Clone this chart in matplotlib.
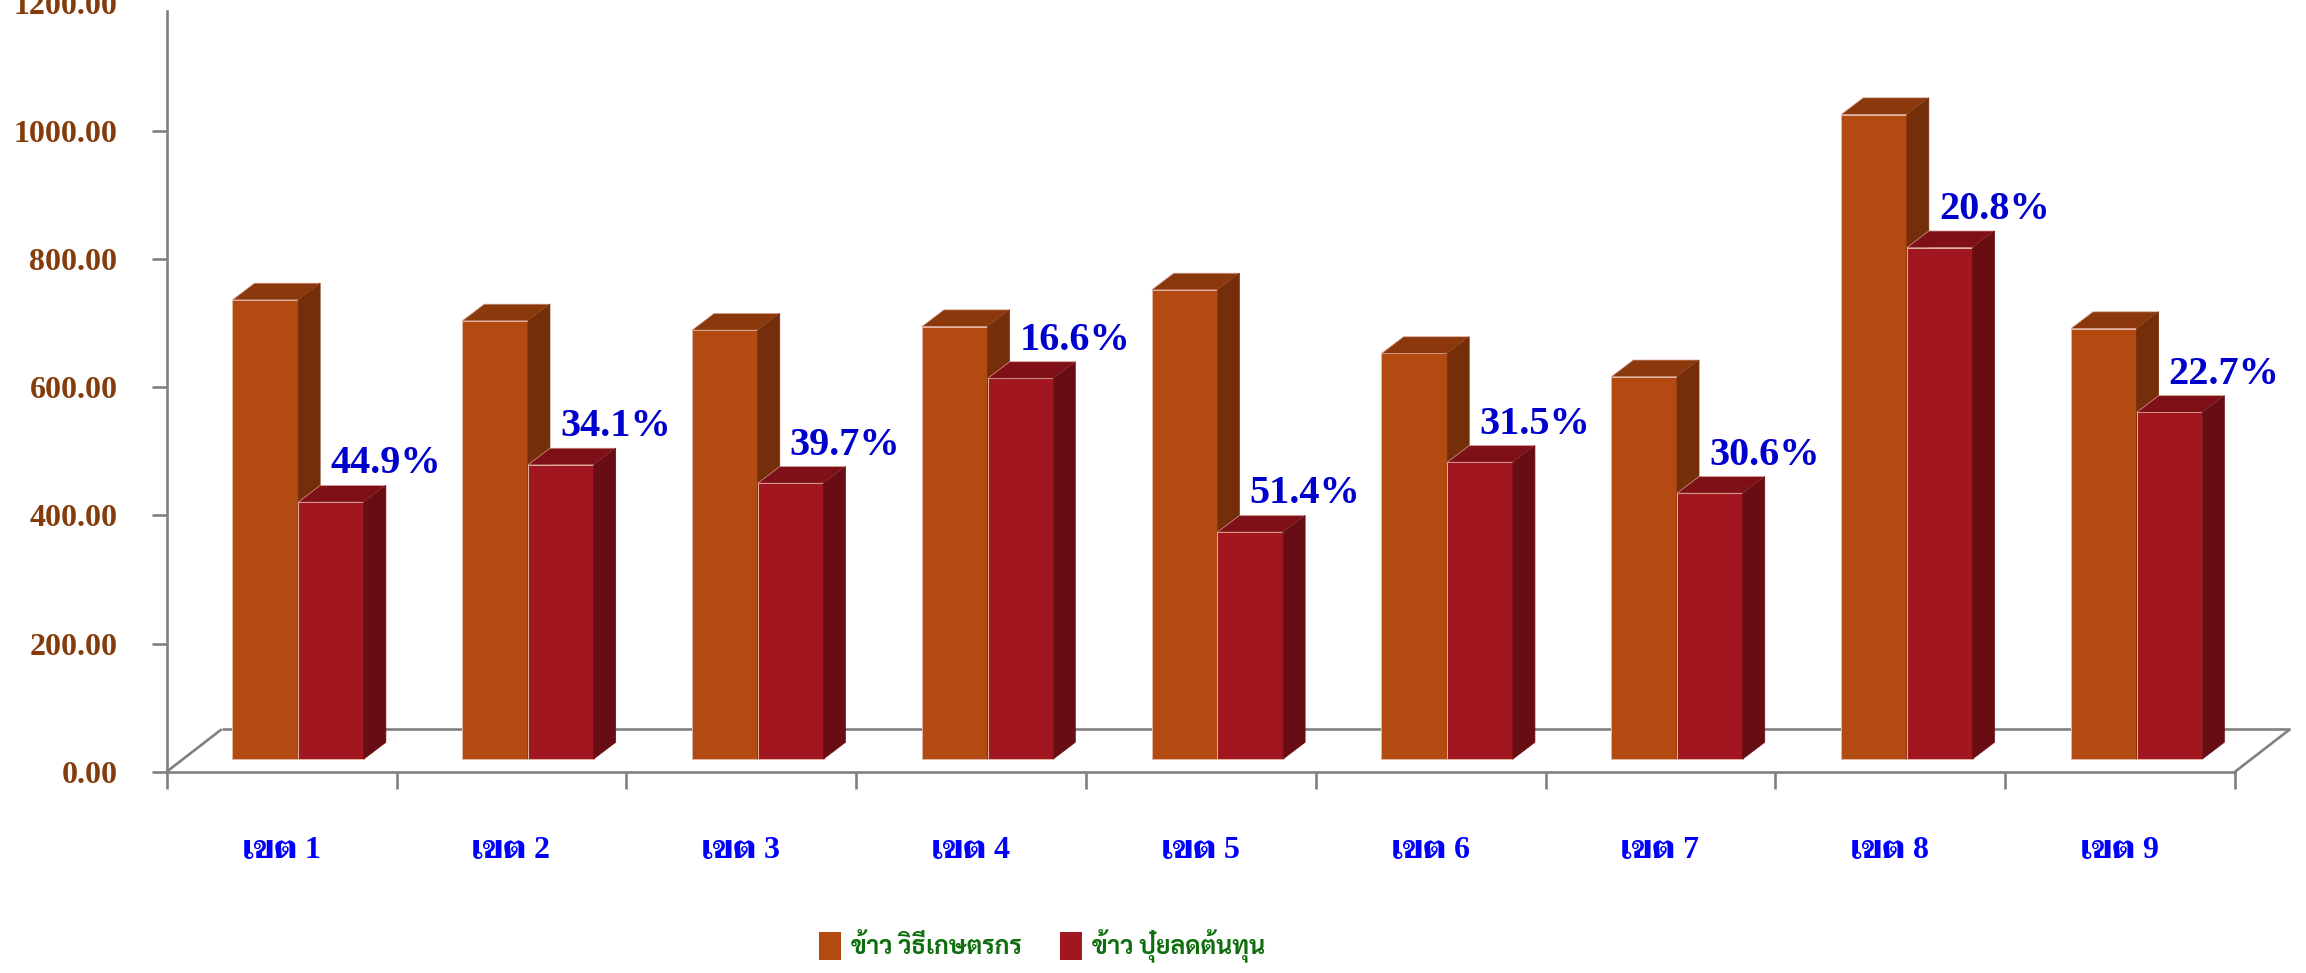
import matplotlib
matplotlib.use("Agg")
import matplotlib.pyplot as plt
from matplotlib.patches import Polygon, Patch
from matplotlib import font_manager
from matplotlib.font_manager import FontProperties
from matplotlib.ft2font import FT2Font
from matplotlib.textpath import TextPath
import matplotlib.transforms as mtransforms

# ---------------- data ----------------
categories = ['เขต 1', 'เขต 2', 'เขต 3', 'เขต 4', 'เขต 5', 'เขต 6', 'เขต 7', 'เขต 8', 'เขต 9']
farmer_method = [716.5, 683.8, 669.3, 674.9, 732.1, 632.9, 596.6, 1005.8, 671.8]
low_cost = [400.8, 459.0, 430.4, 593.9, 354.0, 463.1, 414.8, 798.0, 541.0]
pct_labels = ['44.9%', '34.1%', '39.7%', '16.6%', '51.4%', '31.5%', '30.6%', '20.8%', '22.7%']
series_names = ['ข้าว วิธีเกษตรกร', 'ข้าว ปุ๋ยลดต้นทุน']
y_ticks = [0, 200, 400, 600, 800, 1000, 1200]
y_tick_labels = ['0.00', '200.00', '400.00', '600.00', '800.00', '1000.00', '1200.00']

# ---------------- Thai-capable fonts ----------------
thai_found = set()
for f in font_manager.fontManager.ttflist:
    try:
        if 0x0E02 in FT2Font(f.fname).get_charmap():
            thai_found.add(f.name)
    except Exception:
        pass


def pick(prefs):
    for p in prefs:
        if p in thai_found:
            return p
    return sorted(thai_found)[0] if thai_found else None


label_font = pick(['Taviraj', 'Noto Serif Thai', 'Trirong', 'Sarabun', 'Noto Sans Thai'])
legend_font = pick(['Sarabun', 'Noto Sans Thai Looped', 'Taviraj', 'Noto Sans Thai'])
label_family = ['Liberation Serif'] + ([label_font] if label_font else []) + ['DejaVu Sans']
legend_family = ([legend_font] if legend_font else []) + ['DejaVu Sans']

# ---------------- style / geometry ----------------
W, H, DPI = 2306, 973, 100
ORANGE = ('#B34A11', '#8A380C', '#742E09')
RED = ('#A1161F', '#7F1018', '#680D13')
AXIS_C = '#808080'
BAR_W = 0.286
FRONT_DX, FRONT_DY = 0.072, 19.8
DEPTH_DX, DEPTH_DY = 0.0957, 26.1
FLOOR_DX, FLOOR_DY = 0.239, 66.2

# legend font size chosen so the first entry spans ~170 px
try:
    w100 = TextPath((0, 0), series_names[0], size=100,
                    prop=FontProperties(family=legend_family, weight='bold')).get_extents().width
    legend_size = 170 * 72 / DPI * 100 / w100
except Exception:
    legend_size = 19
legend_px = legend_size * DPI / 72

fig = plt.figure(figsize=(W / DPI, H / DPI), dpi=DPI)
fig.patch.set_facecolor('white')
ax = fig.add_axes([166.7 / W, (H - 771.7) / H, (2235 - 166.7) / W, (771.7 - 2.8) / H])
ax.set_xlim(0, len(categories))
ax.set_ylim(0, 1200)
ax.set_facecolor('none')

# floor
floor_kw = dict(color=AXIS_C, lw=1.9, zorder=1, clip_on=False, solid_capstyle='butt')
n = len(categories)
ax.plot([0, FLOOR_DX], [0, FLOOR_DY], **floor_kw)
ax.plot([FLOOR_DX, n + FLOOR_DX], [FLOOR_DY, FLOOR_DY], **floor_kw)
ax.plot([n, n + FLOOR_DX], [0, FLOOR_DY], **floor_kw)


def bar3d(x0, h, cols, z):
    xb = x0 + FRONT_DX
    yb = FRONT_DY
    ax.bar(xb, h, width=BAR_W, bottom=yb, align='edge', color=cols[0],
           edgecolor='#E2B6A4', linewidth=0.7, zorder=z, clip_on=False)
    top = [(xb, yb + h), (xb + BAR_W, yb + h),
           (xb + BAR_W + DEPTH_DX, yb + h + DEPTH_DY), (xb + DEPTH_DX, yb + h + DEPTH_DY)]
    side = [(xb + BAR_W, yb), (xb + BAR_W + DEPTH_DX, yb + DEPTH_DY),
            (xb + BAR_W + DEPTH_DX, yb + h + DEPTH_DY), (xb + BAR_W, yb + h)]
    ax.add_patch(Polygon(top, closed=True, facecolor=cols[1], edgecolor='#D9A090',
                         linewidth=0.5, zorder=z, clip_on=False))
    ax.add_patch(Polygon(side, closed=True, facecolor=cols[2], edgecolor=cols[2],
                         linewidth=0.5, zorder=z, clip_on=False))


for i in range(n):
    c = i + 0.5
    bar3d(c - BAR_W, farmer_method[i], ORANGE, 3)
    bar3d(c, low_cost[i], RED, 4)
    ax.text(c + FRONT_DX + 0.139, FRONT_DY + low_cost[i] + DEPTH_DY + 18.7, pct_labels[i],
            ha='left', va='baseline', fontsize=29, fontweight='bold',
            family='Liberation Serif', color='#0000CC', zorder=6)

# axes
for s in ['top', 'right']:
    ax.spines[s].set_visible(False)
for s in ['left', 'bottom']:
    ax.spines[s].set_color(AXIS_C)
    ax.spines[s].set_linewidth(1.9)
    ax.spines[s].set_zorder(2)
ax.spines['left'].set_bounds(0, 1187)

ax.set_yticks(y_ticks)
ax.set_yticklabels(y_tick_labels)
ax.tick_params(axis='y', direction='out', length=11, width=1.9, color=AXIS_C, pad=24.5,
               labelsize=23, labelcolor='#843C0C')
for lab in ax.get_yticklabels():
    lab.set_fontfamily('Liberation Serif')
    lab.set_fontweight('bold')
ax.yaxis.get_major_ticks()[-1].tick1line.set_visible(False)

ax.set_xticks(range(n + 1))
ax.set_xticklabels([])
ax.tick_params(axis='x', direction='out', length=12, width=1.9, color=AXIS_C)

trans = mtransforms.blended_transform_factory(ax.transData, fig.transFigure)
for i, name in enumerate(categories):
    ax.text(i + 0.5, (H - 858) / H, name, transform=trans, ha='center', va='baseline',
            fontsize=23, fontweight='bold', family=label_family, color='#0000FF')

handles = [Patch(facecolor=ORANGE[0], edgecolor='none'), Patch(facecolor=RED[0], edgecolor='none')]
leg = fig.legend(handles, series_names, loc='center', bbox_to_anchor=(1042 / W, (H - 946) / H),
                 ncol=2, frameon=False,
                 prop={'family': legend_family, 'size': legend_size, 'weight': 'bold'},
                 handlelength=22.3 / legend_px, handleheight=33 / legend_px,
                 handletextpad=10 / legend_px, columnspacing=38 / legend_px)
for t in leg.get_texts():
    t.set_color('#0E6E0E')

fig.savefig('out.png', dpi=DPI, facecolor='white')
